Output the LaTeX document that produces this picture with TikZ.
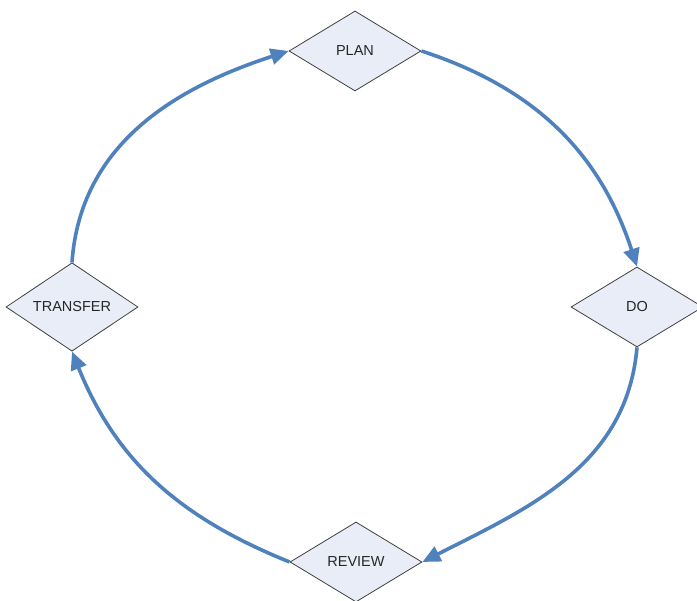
\documentclass[tikz,border=0pt]{standalone}
\usepackage{fontspec}
\setmainfont{Liberation Sans}
\usepackage{tikz}
\usetikzlibrary{shapes.geometric,arrows.meta}
\definecolor{flowblue}{HTML}{4F81BD}
\definecolor{boxfill}{HTML}{E9EDF7}
\definecolor{boxline}{HTML}{404040}

\begin{document}
\begin{tikzpicture}[x=1pt, y=1pt,
    stage/.style={diamond, draw=boxline, line width=0.8pt, fill=boxfill,
        inner sep=0pt, minimum width=132pt, minimum height=80pt,
        text=black!85, font=\fontsize{14.5}{17}\selectfont},
    cycle/.style={draw=flowblue, line width=3.6pt,
        -{Triangle[length=18pt,width=16pt]}}]
\useasboundingbox (0,0) rectangle (697,601);
\node[stage] (plan) at (355,550) {PLAN};
\node[stage] (do) at (637,294) {DO};
\node[stage] (review) at (356,39) {REVIEW};
\node[stage] (transfer) at (72,294) {TRANSFER};
% the four arcs of the cycle
\draw[cycle] (plan.east) to[out=-18, in=108] (do.north);
\draw[cycle] (do.south) to[out=-95, in=27] (review.east);
\draw[cycle] (review.west) to[out=158, in=-68] (transfer.south);
\draw[cycle] (transfer.north) to[out=86, in=198] (plan.west);
\end{tikzpicture}
\end{document}
